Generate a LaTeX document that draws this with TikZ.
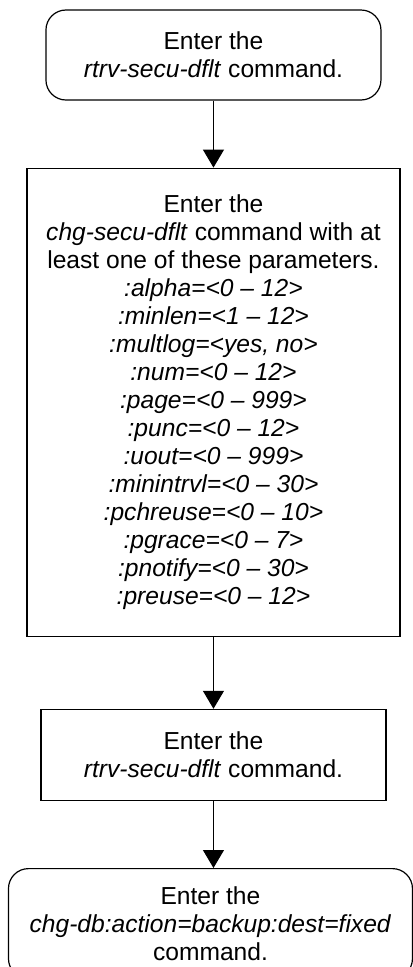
\documentclass[tikz,border=0pt]{standalone}
\usepackage{fontspec}
\setmainfont{Liberation Sans}
\usetikzlibrary{arrows.meta,positioning}

\begin{document}
\begin{tikzpicture}[
  node distance=50.25pt,
  block/.style={draw, line width=0.9pt, align=center, inner sep=0pt, font=\fontsize{18.45}{21}\selectfont},
  term/.style={block, rounded corners=15pt},
  arrow/.style={-{Triangle[width=15.75pt,length=13.5pt]}, line width=0.8pt}
]
\useasboundingbox (0,0) rectangle (309.75pt,-725.25pt);
\node[term, minimum width=251.25pt, minimum height=67.5pt] (rtrv) at (160.1pt,-41.25pt) {Enter the\\\textit{rtrv-secu-dflt} command.};
\node[block, below=of rtrv, minimum width=279.75pt, minimum height=351pt] (chg) {Enter the\\\textit{chg-secu-dflt} command with at\\least one of these parameters.\\
  \textit{:alpha=<0 – 12>}\\\textit{:minlen=<1 – 12>}\\\textit{:multlog=<yes, no>}\\\textit{:num=<0 – 12>}\\
  \textit{:page=<0 – 999>}\\\textit{:punc=<0 – 12>}\\\textit{:uout=<0 – 999>}\\\textit{:minintrvl=<0 – 30>}\\
  \textit{:pchreuse=<0 – 10>}\\\textit{:pgrace=<0 – 7>}\\\textit{:pnotify=<0 – 30>}\\\textit{:preuse=<0 – 12>}};
\node[block, below=54pt of chg, minimum width=258.75pt, minimum height=68.25pt] (rtrvagain) {Enter the\\\textit{rtrv-secu-dflt} command.};
\node[term, below=of rtrvagain, xshift=-2.25pt, minimum width=303pt, minimum height=82.5pt] (backup) {Enter the\\\textit{chg-db:action=backup:dest=fixed}\\command.};
\draw[arrow] (rtrv) -- (chg);
\draw[arrow] (chg) -- (rtrvagain);
\draw[arrow] (rtrvagain) -- (rtrvagain |- backup.north);
\end{tikzpicture}
\end{document}
